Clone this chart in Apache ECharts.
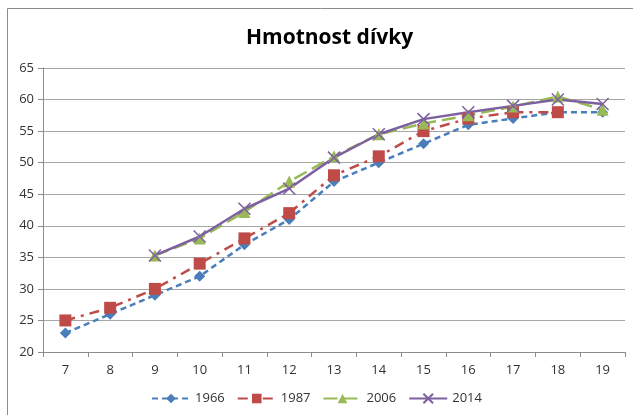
<!DOCTYPE html>
<html><head><meta charset="utf-8">
<script src="https://cdn.jsdelivr.net/npm/echarts@6/dist/echarts.min.js"></script>
<style>html,body{margin:0;padding:0;background:#fff}#c{width:633px;height:415px}</style>
</head><body><div id="c"></div>
<script>
const ages = ['7','8','9','10','11','12','13','14','15','16','17','18','19'];
const y1966 = [23, 26, 29, 32, 37, 41, 47, 50, 53, 56, 57, 58, 58];
const y1987 = [25, 27, 30, 34, 38, 42, 48, 51, 55, 57, 58, 58, null];
const y2006 = [null, null, 35.3, 38, 42.2, 47, 51, 54.5, 56.2, 57.5, 58.9, 60.5, 58.4];
const y2014 = [null, null, 35.3, 38.3, 42.7, 45.9, 50.8, 54.5, 56.9, 58.0, 59.0, 60.0, 59.3];
const seriesNames = ['1966', '1987', '2006', '2014'];

const FONT = 'Open Sans';
const chart = echarts.init(document.getElementById('c'), null, {renderer: 'canvas'});
const xPath = 'path://M0,0L10,10M10,0L0,10';
chart.setOption({
  animation: false,
  textStyle: {fontFamily: FONT},
  title: {text: 'Hmotnost dívky', left: 241, top: 23,
    textStyle: {fontFamily: FONT, fontSize: 21, fontWeight: 'bold', color: '#000'}},
  graphic: [
    {type: 'line', shape: {x1: 7.5, y1: 8.5, x2: 633, y2: 8.5}, style: {stroke: '#8c8c8c', lineWidth: 1}},
    {type: 'line', shape: {x1: 7.5, y1: 8.5, x2: 7.5, y2: 415}, style: {stroke: '#8c8c8c', lineWidth: 1}}
  ],
  legend: {
    bottom: 5, left: 'center', itemWidth: 38, itemHeight: 12, itemGap: 12,
    textStyle: {fontFamily: FONT, fontSize: 13, color: '#333'},
    data: seriesNames
  },
  grid: {left: 43, right: 8, top: 68, bottom: 63},
  xAxis: {
    type: 'category', data: ages, boundaryGap: true,
    axisLine: {lineStyle: {color: '#8c8c8c'}},
    axisTick: {show: true, alignWithLabel: false, length: 5, lineStyle: {color: '#8c8c8c'}},
    axisLabel: {fontFamily: FONT, fontSize: 13, color: '#333', margin: 12}
  },
  yAxis: {
    type: 'value', min: 20, max: 65, interval: 5,
    axisLine: {show: true, lineStyle: {color: '#8c8c8c'}},
    axisTick: {show: true, length: 5, lineStyle: {color: '#8c8c8c'}},
    axisLabel: {fontFamily: FONT, fontSize: 13, color: '#333', margin: 9},
    splitLine: {lineStyle: {color: '#a6a6a6'}}
  },
  series: [
    {name: '1966', type: 'line', data: y1966, symbol: 'diamond', symbolSize: 11,
      itemStyle: {color: '#4a7ebb'}, lineStyle: {color: '#4a7ebb', width: 2.5, type: [6, 4]}},
    {name: '1987', type: 'line', data: y1987, symbol: 'rect', symbolSize: 12,
      itemStyle: {color: '#be4b48'}, lineStyle: {color: '#be4b48', width: 2.5, type: [10, 6, 3, 6]}},
    {name: '2006', type: 'line', data: y2006, symbol: 'triangle', symbolSize: 12,
      itemStyle: {color: '#98b954'}, lineStyle: {color: '#98b954', width: 2.5, type: [14, 6]}},
    {name: '2014', type: 'line', data: y2014, symbol: xPath, symbolSize: 12,
      itemStyle: {color: 'rgba(0,0,0,0)', borderColor: '#7d60a0', borderWidth: 1.5},
      lineStyle: {color: '#7d60a0', width: 2.5, type: 'solid'}}
  ]
});
</script></body></html>
